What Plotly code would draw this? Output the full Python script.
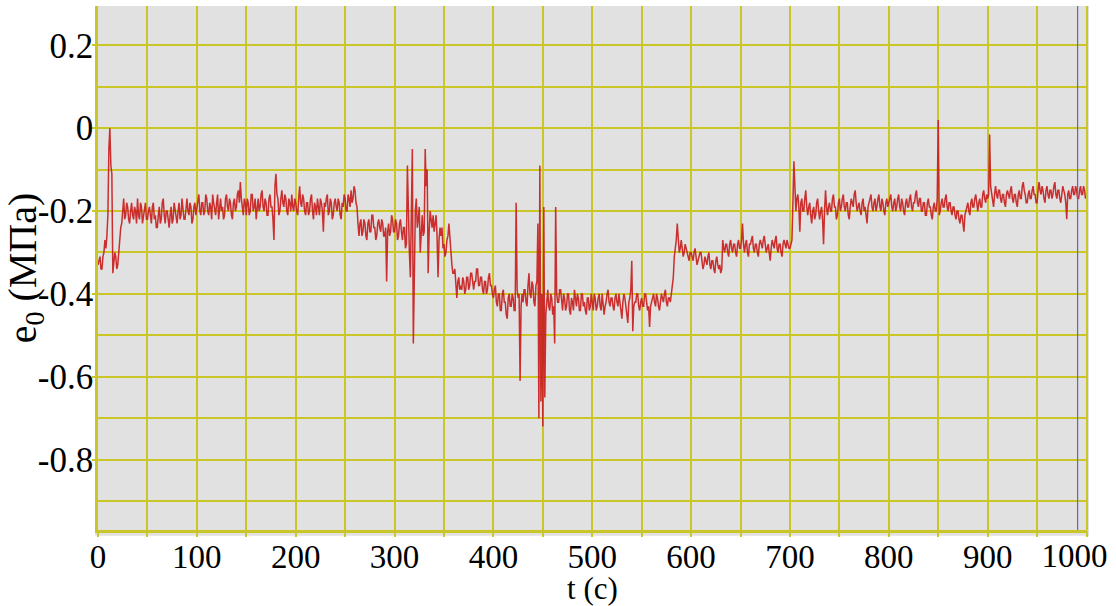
import plotly.graph_objects as go

# Time step of the recorded series (s)
dt = 1

# Pressure e0 (MPa), one value per second
e0_000_099 = [-0.33, -0.32, -0.31, -0.34, -0.34, -0.31, -0.30, -0.27, -0.29, -0.26,
              -0.21, -0.05, 0.00, -0.09, -0.11, -0.35, -0.33, -0.30, -0.31, -0.34,
              -0.33, -0.29, -0.26, -0.24, -0.23, -0.19, -0.17, -0.22, -0.21, -0.18,
              -0.19, -0.22, -0.23, -0.20, -0.18, -0.21, -0.22, -0.19, -0.20, -0.23,
              -0.17, -0.21, -0.22, -0.18, -0.19, -0.23, -0.21, -0.19, -0.18, -0.22,
              -0.22, -0.20, -0.19, -0.21, -0.23, -0.19, -0.18, -0.22, -0.21, -0.24,
              -0.24, -0.21, -0.19, -0.23, -0.22, -0.18, -0.17, -0.21, -0.23, -0.20,
              -0.20, -0.22, -0.24, -0.21, -0.19, -0.23, -0.22, -0.18, -0.20, -0.21,
              -0.23, -0.20, -0.18, -0.22, -0.21, -0.17, -0.19, -0.22, -0.22, -0.19,
              -0.17, -0.20, -0.21, -0.18, -0.19, -0.23, -0.22, -0.19, -0.18, -0.21]
e0_100_199 = [-0.19, -0.17, -0.16, -0.20, -0.21, -0.18, -0.18, -0.21, -0.20, -0.16,
              -0.17, -0.20, -0.21, -0.18, -0.19, -0.22, -0.16, -0.18, -0.20, -0.21,
              -0.18, -0.16, -0.22, -0.19, -0.17, -0.20, -0.19, -0.22, -0.21, -0.17,
              -0.16, -0.19, -0.20, -0.17, -0.18, -0.21, -0.22, -0.18, -0.17, -0.20,
              -0.19, -0.16, -0.15, -0.18, -0.13, -0.17, -0.19, -0.21, -0.17, -0.18,
              -0.21, -0.17, -0.18, -0.21, -0.20, -0.16, -0.16, -0.20, -0.19, -0.17,
              -0.22, -0.19, -0.17, -0.20, -0.19, -0.16, -0.15, -0.19, -0.20, -0.17,
              -0.18, -0.21, -0.21, -0.17, -0.16, -0.19, -0.19, -0.22, -0.27, -0.14,
              -0.11, -0.16, -0.17, -0.21, -0.20, -0.17, -0.15, -0.18, -0.19, -0.16,
              -0.17, -0.20, -0.21, -0.17, -0.18, -0.20, -0.16, -0.19, -0.20, -0.17]
e0_200_299 = [-0.18, -0.20, -0.21, -0.17, -0.14, -0.18, -0.19, -0.16, -0.17, -0.20,
              -0.21, -0.18, -0.18, -0.21, -0.20, -0.17, -0.16, -0.20, -0.22, -0.18,
              -0.19, -0.21, -0.17, -0.19, -0.21, -0.17, -0.18, -0.20, -0.25, -0.18,
              -0.19, -0.17, -0.16, -0.21, -0.20, -0.17, -0.18, -0.22, -0.21, -0.18,
              -0.17, -0.19, -0.20, -0.17, -0.18, -0.21, -0.22, -0.18, -0.19, -0.16,
              -0.17, -0.20, -0.20, -0.16, -0.17, -0.19, -0.15, -0.18, -0.17, -0.14,
              -0.15, -0.18, -0.19, -0.23, -0.26, -0.23, -0.22, -0.26, -0.25, -0.22,
              -0.23, -0.26, -0.27, -0.23, -0.22, -0.25, -0.25, -0.21, -0.21, -0.24,
              -0.24, -0.27, -0.26, -0.23, -0.22, -0.24, -0.25, -0.22, -0.23, -0.26,
              -0.26, -0.24, -0.37, -0.25, -0.23, -0.26, -0.25, -0.21, -0.22, -0.25]
e0_300_399 = [-0.25, -0.22, -0.23, -0.27, -0.26, -0.23, -0.22, -0.25, -0.27, -0.24,
              -0.24, -0.29, -0.28, -0.09, -0.22, -0.30, -0.36, -0.20, -0.05, -0.52,
              -0.27, -0.20, -0.17, -0.24, -0.22, -0.19, -0.30, -0.23, -0.21, -0.26,
              -0.25, -0.05, -0.14, -0.10, -0.35, -0.25, -0.20, -0.22, -0.24, -0.21,
              -0.25, -0.23, -0.21, -0.26, -0.36, -0.27, -0.24, -0.26, -0.24, -0.29,
              -0.28, -0.31, -0.30, -0.27, -0.26, -0.23, -0.27, -0.31, -0.33, -0.35,
              -0.35, -0.34, -0.38, -0.41, -0.37, -0.36, -0.39, -0.38, -0.39, -0.36,
              -0.37, -0.40, -0.39, -0.36, -0.36, -0.39, -0.38, -0.35, -0.35, -0.38,
              -0.39, -0.37, -0.37, -0.34, -0.34, -0.38, -0.38, -0.36, -0.36, -0.39,
              -0.40, -0.37, -0.37, -0.40, -0.39, -0.36, -0.35, -0.38, -0.38, -0.40]
e0_400_499 = [-0.41, -0.39, -0.38, -0.42, -0.43, -0.40, -0.40, -0.44, -0.44, -0.40,
              -0.39, -0.42, -0.42, -0.45, -0.46, -0.41, -0.40, -0.43, -0.43, -0.40,
              -0.41, -0.44, -0.44, -0.18, -0.39, -0.41, -0.40, -0.61, -0.43, -0.40,
              -0.42, -0.39, -0.39, -0.42, -0.43, -0.38, -0.35, -0.40, -0.41, -0.37,
              -0.38, -0.42, -0.43, -0.38, -0.37, -0.23, -0.70, -0.09, -0.66, -0.40,
              -0.72, -0.19, -0.65, -0.45, -0.41, -0.39, -0.43, -0.44, -0.40, -0.41,
              -0.45, -0.43, -0.52, -0.19, -0.40, -0.42, -0.42, -0.39, -0.39, -0.43,
              -0.44, -0.40, -0.41, -0.44, -0.43, -0.40, -0.40, -0.44, -0.45, -0.41,
              -0.42, -0.44, -0.39, -0.41, -0.43, -0.40, -0.41, -0.44, -0.44, -0.40,
              -0.40, -0.43, -0.42, -0.44, -0.45, -0.41, -0.41, -0.44, -0.43, -0.40]
e0_500_599 = [-0.42, -0.44, -0.40, -0.41, -0.44, -0.43, -0.41, -0.40, -0.43, -0.44,
              -0.40, -0.42, -0.45, -0.43, -0.42, -0.40, -0.39, -0.42, -0.43, -0.41,
              -0.41, -0.43, -0.44, -0.41, -0.40, -0.42, -0.43, -0.40, -0.42, -0.44,
              -0.46, -0.42, -0.40, -0.41, -0.43, -0.44, -0.47, -0.42, -0.41, -0.39,
              -0.32, -0.49, -0.43, -0.42, -0.42, -0.40, -0.40, -0.43, -0.44, -0.42,
              -0.41, -0.43, -0.43, -0.40, -0.40, -0.42, -0.44, -0.43, -0.48, -0.43,
              -0.42, -0.41, -0.40, -0.42, -0.43, -0.40, -0.41, -0.43, -0.44, -0.42,
              -0.40, -0.41, -0.42, -0.40, -0.39, -0.42, -0.43, -0.41, -0.41, -0.42,
              -0.40, -0.38, -0.36, -0.31, -0.29, -0.27, -0.23, -0.28, -0.30, -0.29,
              -0.27, -0.29, -0.31, -0.30, -0.28, -0.29, -0.30, -0.31, -0.32, -0.30]
e0_600_699 = [-0.30, -0.31, -0.32, -0.30, -0.29, -0.31, -0.33, -0.32, -0.31, -0.30,
              -0.30, -0.32, -0.34, -0.33, -0.31, -0.32, -0.33, -0.31, -0.30, -0.33,
              -0.34, -0.32, -0.32, -0.34, -0.35, -0.32, -0.31, -0.33, -0.34, -0.33,
              -0.35, -0.34, -0.27, -0.29, -0.30, -0.28, -0.28, -0.30, -0.31, -0.28,
              -0.27, -0.29, -0.30, -0.28, -0.28, -0.30, -0.31, -0.28, -0.27, -0.29,
              -0.29, -0.27, -0.23, -0.28, -0.30, -0.28, -0.27, -0.30, -0.31, -0.28,
              -0.28, -0.27, -0.26, -0.29, -0.30, -0.28, -0.28, -0.30, -0.31, -0.28,
              -0.27, -0.28, -0.29, -0.27, -0.26, -0.28, -0.30, -0.29, -0.28, -0.30,
              -0.32, -0.29, -0.27, -0.28, -0.29, -0.27, -0.26, -0.29, -0.30, -0.28,
              -0.28, -0.30, -0.31, -0.28, -0.27, -0.28, -0.29, -0.27, -0.28, -0.29]
e0_700_799 = [-0.29, -0.28, -0.27, -0.18, -0.08, -0.14, -0.20, -0.17, -0.16, -0.19,
              -0.25, -0.18, -0.17, -0.20, -0.20, -0.17, -0.15, -0.19, -0.21, -0.19,
              -0.18, -0.21, -0.23, -0.20, -0.19, -0.22, -0.21, -0.18, -0.17, -0.20,
              -0.22, -0.20, -0.19, -0.22, -0.28, -0.20, -0.15, -0.19, -0.21, -0.19,
              -0.18, -0.20, -0.20, -0.17, -0.16, -0.19, -0.19, -0.22, -0.21, -0.18,
              -0.17, -0.20, -0.19, -0.17, -0.16, -0.19, -0.20, -0.18, -0.18, -0.21,
              -0.22, -0.19, -0.17, -0.18, -0.19, -0.16, -0.15, -0.18, -0.20, -0.19,
              -0.18, -0.20, -0.21, -0.18, -0.17, -0.20, -0.19, -0.21, -0.23, -0.19,
              -0.18, -0.17, -0.16, -0.19, -0.20, -0.18, -0.17, -0.20, -0.19, -0.17,
              -0.16, -0.19, -0.20, -0.17, -0.18, -0.20, -0.21, -0.18, -0.17, -0.19]
e0_800_899 = [-0.18, -0.17, -0.16, -0.19, -0.20, -0.18, -0.17, -0.20, -0.19, -0.17,
              -0.16, -0.19, -0.20, -0.17, -0.18, -0.20, -0.21, -0.18, -0.17, -0.19,
              -0.19, -0.17, -0.16, -0.19, -0.20, -0.18, -0.18, -0.16, -0.15, -0.18,
              -0.19, -0.17, -0.17, -0.20, -0.20, -0.18, -0.18, -0.21, -0.21, -0.18,
              -0.17, -0.19, -0.19, -0.21, -0.22, -0.19, -0.18, -0.20, -0.20, -0.17,
              0.02, -0.21, -0.20, -0.18, -0.17, -0.19, -0.19, -0.17, -0.16, -0.19,
              -0.20, -0.18, -0.18, -0.20, -0.21, -0.19, -0.19, -0.21, -0.22, -0.20,
              -0.20, -0.22, -0.23, -0.21, -0.21, -0.23, -0.25, -0.21, -0.20, -0.19,
              -0.18, -0.20, -0.21, -0.18, -0.17, -0.19, -0.19, -0.17, -0.16, -0.18,
              -0.20, -0.18, -0.17, -0.19, -0.19, -0.16, -0.15, -0.17, -0.18, -0.16]
e0_900_999 = [-0.17, -0.16, -0.015, -0.14, -0.16, -0.18, -0.19, -0.16, -0.14, -0.16,
              -0.17, -0.15, -0.15, -0.17, -0.18, -0.16, -0.16, -0.18, -0.19, -0.16,
              -0.15, -0.16, -0.17, -0.15, -0.14, -0.17, -0.18, -0.16, -0.16, -0.18,
              -0.19, -0.16, -0.15, -0.17, -0.17, -0.14, -0.13, -0.15, -0.16, -0.18,
              -0.18, -0.16, -0.15, -0.17, -0.17, -0.15, -0.14, -0.16, -0.16, -0.18,
              -0.18, -0.15, -0.13, -0.15, -0.16, -0.14, -0.15, -0.17, -0.18, -0.15,
              -0.14, -0.16, -0.17, -0.15, -0.15, -0.17, -0.16, -0.14, -0.13, -0.16,
              -0.17, -0.15, -0.15, -0.17, -0.18, -0.16, -0.14, -0.15, -0.16, -0.18,
              -0.22, -0.16, -0.15, -0.17, -0.17, -0.15, -0.14, -0.16, -0.16, -0.14,
              -0.15, -0.17, -0.17, -0.15, -0.14, -0.16, -0.16, -0.14, -0.15, -0.17]

e0 = (e0_000_099 + e0_100_199 + e0_200_299 + e0_300_399 + e0_400_499 +
      e0_500_599 + e0_600_699 + e0_700_799 + e0_800_899 + e0_900_999)
t = [i * dt for i in range(len(e0))]

# Cursor position (s)
cursor_t = 991

# Axis ranges and ticks
x_range = [0, 1000.5]
y_range = [-0.97, 0.295]
x_tick_vals = [0, 100, 200, 300, 400, 500, 600, 700, 800, 900, 1000]
x_tick_labels = ["0", "100", "200", "300", "400", "500", "600", "700", "800", "900", "1000"]
y_tick_vals = [0.2, 0, -0.2, -0.4, -0.6, -0.8]
y_tick_labels = ["0.2", "0", "-0.2", "-0.4", "-0.6", "-0.8"]

GRID = "rgb(202,198,40)"
FONT = "Liberation Serif"

fig = go.Figure()
fig.add_trace(go.Scatter(x=t, y=e0, mode="lines",
                         line=dict(color="rgba(200,30,30,0.92)", width=1.5),
                         showlegend=False, hoverinfo="skip"))
# cursor line, drawn on the overlay axis that carries the last tick label
fig.add_trace(go.Scatter(x=[cursor_t, cursor_t], y=y_range, mode="lines",
                         xaxis="x2", yaxis="y",
                         line=dict(color="rgb(100,100,190)", width=1.2),
                         showlegend=False, hoverinfo="skip"))

fig.update_layout(
    width=1116, height=606,
    margin=dict(l=98, r=29, t=6, b=76, autoexpand=False),
    paper_bgcolor="white",
    plot_bgcolor="#e1e1e1",
    font=dict(family=FONT, color="black"),
    xaxis=dict(
        range=x_range,
        automargin=False,
        tickvals=x_tick_vals[:-1], ticktext=x_tick_labels[:-1],
        tickfont=dict(family=FONT, size=33, color="black"),
        ticklabelstandoff=-8,
        showgrid=True, gridcolor=GRID, gridwidth=1.5,
        minor=dict(tick0=0, dtick=50, showgrid=True, gridcolor=GRID, gridwidth=1.5,
                   ticks="outside", ticklen=4, tickcolor=GRID, tickwidth=2),
        ticks="outside", ticklen=4, tickcolor=GRID, tickwidth=2,
        showline=True, linecolor=GRID, linewidth=2.5,
        zeroline=False,
        title=dict(text="t (c)", font=dict(family=FONT, size=31, color="black"), standoff=3),
    ),
    xaxis2=dict(
        range=x_range, overlaying="x", side="bottom", anchor="y",
        automargin=False,
        tickvals=x_tick_vals[-1:], ticktext=x_tick_labels[-1:],
        tickfont=dict(family=FONT, size=33, color="black"),
        ticklabelstandoff=-8, ticklabelshift=-12,
        ticks="outside", ticklen=4, tickcolor=GRID, tickwidth=2,
        showgrid=False, showline=False, zeroline=False,
    ),
    yaxis=dict(
        range=y_range,
        automargin=False,
        tickvals=y_tick_vals, ticktext=y_tick_labels,
        tickfont=dict(family=FONT, size=35, color="black"),
        showgrid=True, gridcolor=GRID, gridwidth=1.5,
        minor=dict(tick0=0, dtick=0.1, showgrid=True, gridcolor=GRID, gridwidth=1.5),
        ticks="outside", ticklen=3, tickcolor=GRID, tickwidth=1.5,
        ticklabelstandoff=-8,
        showline=True, linecolor=GRID, linewidth=2.5,
        zeroline=False,
        title=dict(text="e<sub>0</sub> (МПа)", font=dict(family=FONT, size=40, color="black"), standoff=0),
    ),
    shapes=[
        dict(type="rect", xref="paper", yref="paper", x0=-0.003, x1=1.002, y0=-0.011, y1=1,
             fillcolor="#e1e1e1", line=dict(width=0), layer="below"),
        dict(type="line", xref="paper", yref="paper", x0=1, x1=1, y0=0, y1=1,
             line=dict(color=GRID, width=2)),
    ],
)

fig.write_html("out.html")
